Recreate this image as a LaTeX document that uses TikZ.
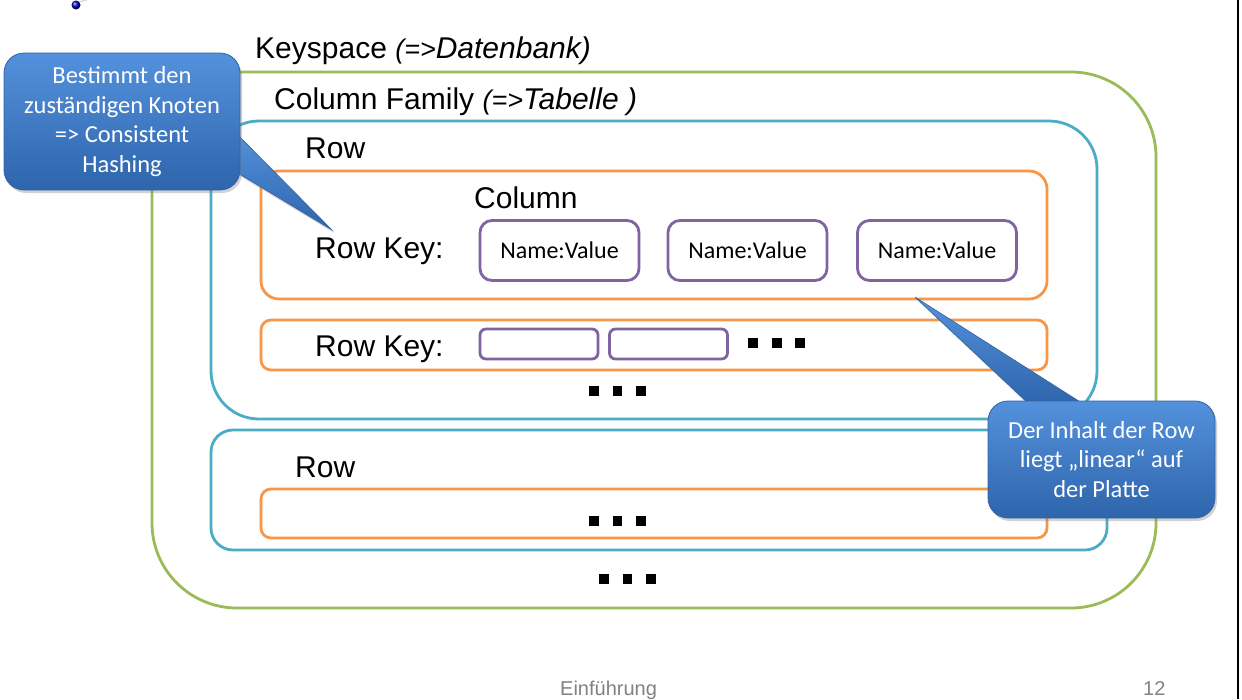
\documentclass[tikz,border=0pt]{standalone}
\usepackage{fontspec}
\setmainfont{Liberation Sans}
\newfontfamily\callfont{Carlito}
\usetikzlibrary{shadows}
\definecolor{kgreen}{RGB}{155,187,89}
\definecolor{kblue}{RGB}{75,172,198}
\definecolor{korange}{RGB}{247,150,70}
\definecolor{kpurple}{RGB}{128,100,162}
\definecolor{ctop}{RGB}{84,145,220}
\definecolor{cbot}{RGB}{46,101,172}
\definecolor{cedge}{RGB}{52,98,160}
\definecolor{footgrey}{RGB}{130,130,130}
\begin{document}
\begin{tikzpicture}[x=1pt,y=-1pt,
  frame/.style={line width=2.8pt, draw=#1},
  bigtext/.style={font=\fontsize{30}{36}\selectfont, inner sep=0pt, anchor=base west},
  cell/.style={draw=kpurple, line width=2.8pt, rounded corners=12pt, minimum width=159pt, minimum height=60pt, inner sep=0pt, font=\callfont\fontsize{24}{28}\selectfont},
  smallcell/.style={draw=kpurple, line width=2.8pt, rounded corners=6pt, minimum width=118pt, minimum height=30pt, inner sep=0pt},
  callout/.style={rounded corners=20pt, top color=ctop, bottom color=cbot, draw=cedge, line width=0.8pt, text=white, align=center, font=\callfont\fontsize{24.5}{29.5}\selectfont, inner sep=0pt, drop shadow={shadow xshift=2pt, shadow yshift=-3pt, opacity=0.35}},
  pointer/.style={top color=ctop, bottom color=cbot, draw=cedge, line width=0.6pt, drop shadow={shadow xshift=2pt, shadow yshift=-3pt, opacity=0.3}},
  footer/.style={font=\fontsize{20}{24}\selectfont, text=footgrey, inner sep=0pt, anchor=base west}
]
\fill[white, use as bounding box] (0,0) rectangle (1242,699);

% logo fragment and right edge line
\shade[ball color=blue!70!black] (76,5) circle (4.5);
\draw[gray!35, line width=1pt] (79,2) -- (90,-1);
\draw[black, line width=2pt] (1238,0) -- (1238,699);

% frames
\draw[frame=kgreen, rounded corners=85pt] (152,72) rectangle (1156,608);
\draw[frame=kblue, rounded corners=48pt] (211,121) rectangle (1097,419);
\draw[frame=kblue, rounded corners=22pt] (211,430) rectangle (1107,550);
\draw[frame=korange, rounded corners=18pt] (261,171) rectangle (1047,299);
\draw[frame=korange, rounded corners=10pt] (261,320) rectangle (1047,370);
\draw[frame=korange, rounded corners=10pt] (261,489) rectangle (1047,538);

% labels
\node[bigtext] (ks) at (255,58) {Keyspace \textit{\fontsize{27}{32}\selectfont(=>}\textit{Datenbank)}};
\node[bigtext] (cf) at (274,109) {Column Family \textit{\fontsize{27}{32}\selectfont(=>}\textit{Tabelle )}};
\node[bigtext] (row1) at (305,158) {Row};
\node[bigtext] (col) at (474,208) {Column};
\node[bigtext] (rk1) at (315,258) {Row Key:};
\node[bigtext] (rk2) at (315,356) {Row Key:};
\node[bigtext] (row2) at (295,477) {Row};

% columns
\node[cell] (nv1) at (559.5,250.5) {Name:Value};
\node[cell] (nv2) at (747.5,250.5) {Name:Value};
\node[cell] (nv3) at (937,250.5) {Name:Value};
\node[smallcell] (sc1) at (539,344) {};
\node[smallcell] (sc2) at (668.5,344) {};

% ellipsis squares
\foreach \x in {748,772,795} \fill (\x,338) rectangle ++(9.5,9.5);
\foreach \x in {589,612.5,636} \fill (\x,386) rectangle ++(9.5,9.5);
\foreach \x in {589,612.5,636} \fill (\x,516) rectangle ++(9.5,9.5);
\foreach \x in {599,622.5,646} \fill (\x,574) rectangle ++(9.5,9.5);

% callout 1
\coordinate (t1a) at (236,133);
\coordinate (tip1) at (332,230);
\coordinate (t1b) at (236,172);
\path[pointer] (t1a) -- (tip1) -- (t1b) -- cycle;
\node[callout, minimum width=236pt, minimum height=137pt] (call1) at (122,121.5) {Bestimmt den\\zuständigen Knoten\\=> Consistent\\Hashing};

% callout 2
\coordinate (t2a) at (1030,405);
\coordinate (tip2) at (915,297);
\coordinate (t2b) at (1085,405);
\path[pointer] (t2a) -- (tip2) -- (t2b) -- cycle;
\node[callout, minimum width=227pt, minimum height=117pt] (call2) at (1101.5,459.5) {Der Inhalt der Row\\liegt „linear“ auf\\der Platte};

% footer
\node[footer] (foot) at (560,695) {Einführung};
\node[footer] (pnum) at (1143,695) {12};
\end{tikzpicture}
\end{document}
